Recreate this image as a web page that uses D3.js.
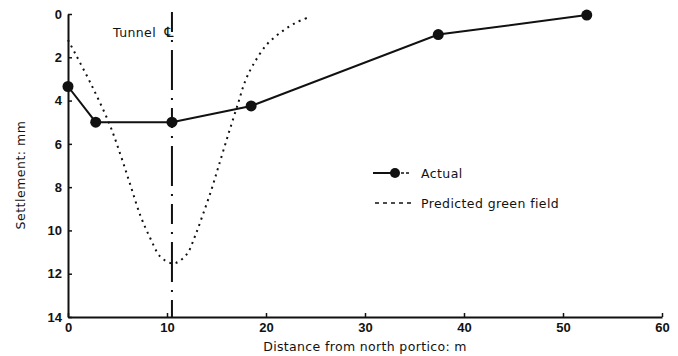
<!DOCTYPE html>
<html>
<head>
<meta charset="utf-8">
<script src="https://cdn.jsdelivr.net/npm/d3@7"></script>
<style>
  html, body { margin: 0; padding: 0; background: #fff; }
  svg { display: block; }
  text { font-family: "DejaVu Sans", "Liberation Sans", sans-serif; fill: #111; }
</style>
</head>
<body>
<svg id="chart" width="678" height="356"></svg>
<script>
// Measured surface settlement (mm) against distance from the north portico (m)
const actualDistance = [0, 2.8, 10.5, 18.5, 37.4, 52.4];
const actualSettlement = [3.35, 5.0, 5.0, 4.25, 0.95, 0.05];

// Predicted green-field settlement trough
const predictedDistance = [0, 0.7, 2.5, 4.2, 5.3, 6.3, 7.3, 8.3, 9.3, 10.3, 10.9, 12.0, 12.8, 13.6, 14.5, 15.2, 16.2, 17.2, 17.9, 18.7, 20.1, 21.7, 23.1, 24.4];
const predictedSettlement = [1.2, 1.8, 3.4, 5.1, 6.5, 7.9, 9.3, 10.35, 11.2, 11.5, 11.5, 11.1, 10.3, 9.3, 8.1, 7.05, 5.55, 4.1, 3.1, 2.35, 1.4, 0.78, 0.38, 0.14];

const tunnelCentre = 10.5;
const xTicks = [0, 10, 20, 30, 40, 50, 60];
const yTicks = [0, 2, 4, 6, 8, 10, 12, 14];

const svg = d3.select("#chart");
const plotLeft = 68, plotRight = 662, plotTop = 14, plotBottom = 317;

const x = d3.scaleLinear().domain([0, 60]).range([plotLeft, plotRight]);
const y = d3.scaleLinear().domain([0, 14]).range([plotTop, plotBottom]);

// Axes with short inward ticks
const yAxis = svg.append("g")
  .attr("transform", `translate(${plotLeft},0)`)
  .call(d3.axisLeft(y).tickValues(yTicks).tickSizeInner(-4).tickSizeOuter(0).tickPadding(6));
const xAxis = svg.append("g")
  .attr("transform", `translate(0,${plotBottom})`)
  .call(d3.axisBottom(x).tickValues(xTicks).tickSizeInner(-4).tickSizeOuter(0).tickPadding(6));

[yAxis, xAxis].forEach(g => {
  g.select(".domain").attr("stroke", "#111").attr("stroke-width", 2);
  g.selectAll(".tick line").attr("stroke", "#111").attr("stroke-width", 1.5);
  g.selectAll(".tick text")
    .style("font-family", "\"Liberation Sans\", sans-serif")
    .style("font-size", "13px").style("font-weight", "bold").attr("fill", "#111");
});

// Tunnel centre line
svg.append("line")
  .attr("x1", x(tunnelCentre)).attr("x2", x(tunnelCentre))
  .attr("y1", 12).attr("y2", plotBottom)
  .attr("stroke", "#111").attr("stroke-width", 2)
  .attr("stroke-dasharray", "20,8,2,8,40,8,2,8");

const tunnelLabel = svg.append("text")
  .attr("x", 113).attr("y", 37)
  .style("font-size", "12.5px").style("letter-spacing", "0.4px");
tunnelLabel.append("tspan").text("Tunnel ");
tunnelLabel.append("tspan").attr("dx", 4).style("font-size", "14px").text("\u2104");

// Predicted green-field trough
const predicted = predictedDistance.map((d, i) => [d, predictedSettlement[i]]);
svg.append("path")
  .datum(predicted)
  .attr("fill", "none")
  .attr("stroke", "#111")
  .attr("stroke-width", 2)
  .attr("stroke-dasharray", "2,4.5")
  .attr("d", d3.line().x(d => x(d[0])).y(d => y(d[1])).curve(d3.curveCatmullRom.alpha(0.5)));

// Measured settlement
const actual = actualDistance.map((d, i) => [d, actualSettlement[i]]);
svg.append("path")
  .datum(actual)
  .attr("fill", "none")
  .attr("stroke", "#111")
  .attr("stroke-width", 2)
  .attr("d", d3.line().x(d => x(d[0])).y(d => y(d[1])));

svg.selectAll("circle.pt")
  .data(actual)
  .join("circle")
  .attr("class", "pt")
  .attr("cx", d => x(d[0])).attr("cy", d => y(d[1]))
  .attr("r", 5.5)
  .attr("fill", "#111");

// Legend
const lg = svg.append("g");
lg.append("line").attr("x1", 373).attr("x2", 392).attr("y1", 173).attr("y2", 173)
  .attr("stroke", "#111").attr("stroke-width", 2);
lg.append("line").attr("x1", 396).attr("x2", 410).attr("y1", 173).attr("y2", 173)
  .attr("stroke", "#111").attr("stroke-width", 1.5).attr("stroke-dasharray", "3,2");
lg.append("circle").attr("cx", 395).attr("cy", 173).attr("r", 5).attr("fill", "#111");
lg.append("text").attr("x", 421).attr("y", 177.5).style("font-size", "12.5px").style("letter-spacing", "0.4px").text("Actual");

lg.append("line").attr("x1", 375).attr("x2", 413).attr("y1", 203).attr("y2", 203)
  .attr("stroke", "#111").attr("stroke-width", 1.5).attr("stroke-dasharray", "4,4");
lg.append("text").attr("x", 421).attr("y", 207.5).style("font-size", "12.5px").style("letter-spacing", "0.4px").text("Predicted green field");

// Axis titles
svg.append("text")
  .attr("x", 365).attr("y", 351)
  .attr("text-anchor", "middle")
  .style("font-size", "12.5px").style("letter-spacing", "0.35px")
  .text("Distance from north portico: m");

svg.append("text")
  .attr("transform", "translate(25,175) rotate(-90)")
  .attr("text-anchor", "middle")
  .style("font-size", "12.5px").style("letter-spacing", "0.5px")
  .text("Settlement: mm");
</script>
</body>
</html>
